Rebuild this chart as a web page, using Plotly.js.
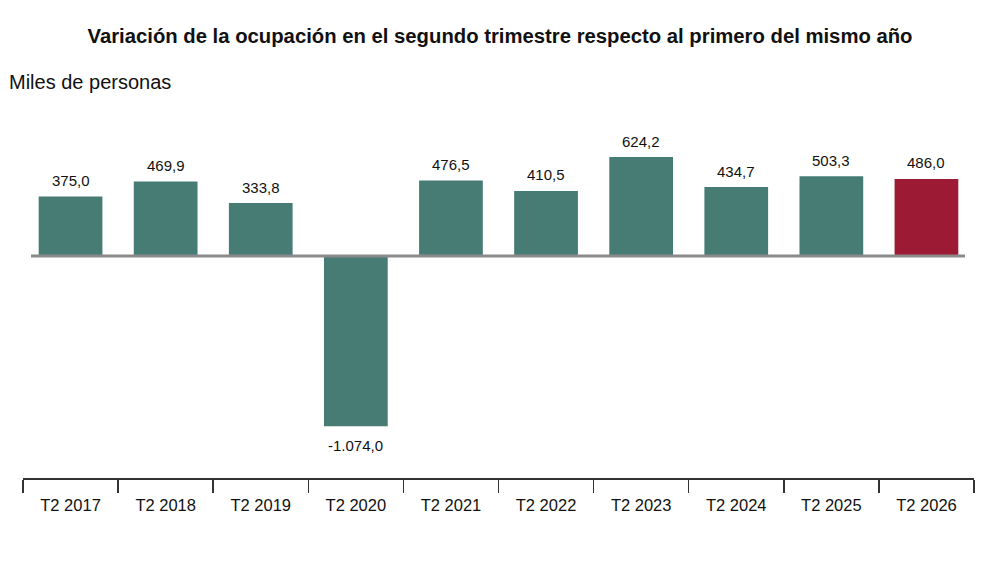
<!DOCTYPE html>
<html>
<head>
<meta charset="utf-8">
<script src="https://cdn.plot.ly/plotly-3.0.1.min.js"></script>
<style>html,body{margin:0;padding:0;background:#fff;}#chart{width:1000px;height:563px;}</style>
</head>
<body>
<div id="chart"></div>
<script>
const categories = ["T2 2017","T2 2018","T2 2019","T2 2020","T2 2021","T2 2022","T2 2023","T2 2024","T2 2025","T2 2026"];
const values = [375.0, 469.9, 333.8, -1074.0, 476.5, 410.5, 624.2, 434.7, 503.3, 486.0];
const teal = "#467c74";
const red = "#9c1a33";
const colors = categories.map((c, i) => i === categories.length - 1 ? red : teal);

function fmt(v) {
  const s = Math.abs(v).toFixed(1).split(".");
  const int = s[0].replace(/\B(?=(\d{3})+(?!\d))/g, ".");
  return (v < 0 ? "-" : "") + int + "," + s[1];
}

const trace = {
  type: "bar",
  x: categories,
  y: values,
  marker: {color: colors, line: {width: 0}},
  width: 0.67,
  hoverinfo: "skip"
};

const valueLabels = categories.map((c, i) => ({
  xref: "x", yref: "y",
  x: c, y: values[i],
  text: fmt(values[i]),
  showarrow: false,
  xanchor: "center", yanchor: "middle",
  yshift: values[i] >= 0 ? 16 : -19,
  font: {size: 15, color: "#111"}
}));

const layout = {
  width: 1000,
  height: 563,
  margin: {l: 23, r: 26, t: 100, b: 85},
  paper_bgcolor: "#fff",
  plot_bgcolor: "#fff",
  showlegend: false,
  font: {family: "Liberation Sans, Arial, sans-serif", color: "#111"},
  title: {
    text: "<b>Variación de la ocupación en el segundo trimestre respecto al primero del mismo año</b>",
    font: {size: 20.3, color: "#111"},
    x: 0.5, xanchor: "center",
    yref: "container", y: 1 - 36/563, yanchor: "middle"
  },
  xaxis: {
    type: "category",
    range: [-0.5, 9.5],
    showline: true, linecolor: "#333", linewidth: 1.5,
    ticks: "outside", tickson: "boundaries", ticklen: 13, tickwidth: 1.5, tickcolor: "#333",
    ticklabelstandoff: 12,
    tickfont: {size: 16.5, color: "#111"},
    showgrid: false, zeroline: false, fixedrange: true
  },
  yaxis: {
    range: [-1400, 984],
    showticklabels: false, showgrid: false, zeroline: false, showline: false, ticks: "",
    fixedrange: true
  },
  shapes: [{
    type: "line", xref: "x", yref: "y",
    x0: -0.416, x1: 9.405, y0: 0, y1: 0,
    line: {color: "#8a8a8a", width: 3},
    layer: "above"
  }],
  annotations: [{
    text: "Miles de personas",
    xref: "paper", yref: "paper",
    x: (7 - 23) / 951, xanchor: "left",
    y: (478 - 82) / 378, yanchor: "middle",
    showarrow: false,
    font: {size: 20, color: "#111"}
  }].concat(valueLabels)
};

Plotly.newPlot("chart", [trace], layout, {displayModeBar: false, staticPlot: true});
</script>
</body>
</html>
